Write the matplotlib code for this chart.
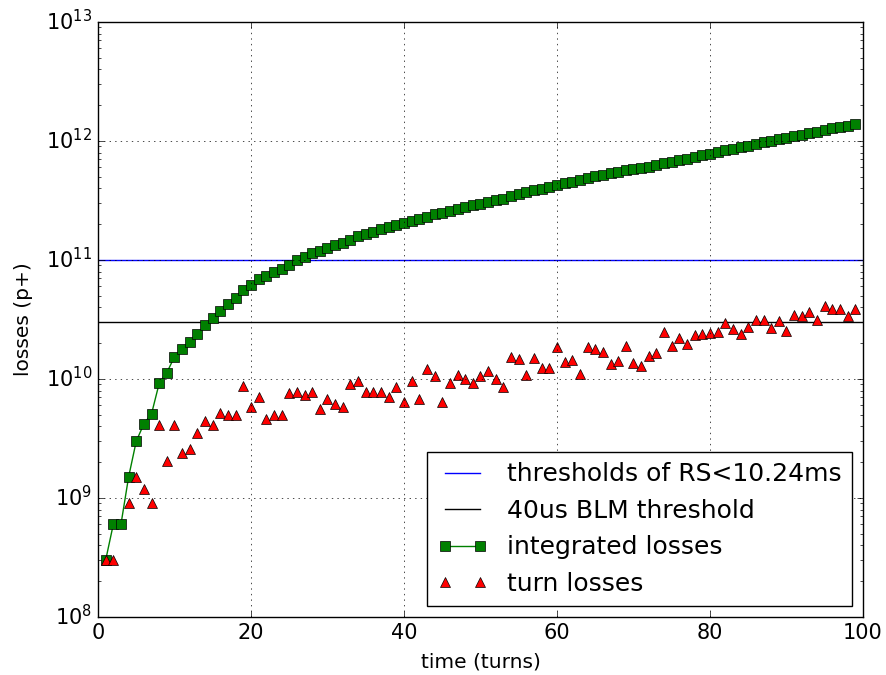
import numpy as np
import matplotlib
matplotlib.use("Agg")
import matplotlib.pyplot as plt

# losses per turn, units of 1e9 protons (turn 3 shows no marker)
turns = np.arange(1, 100)
turn_losses = [
    0.3, 0.3, np.nan, 0.9, 1.5, 1.2, 0.9, 4.1, 2.05, 4.1,
    2.4, 2.6, 3.5, 4.4, 4.1, 5.2, 5.0, 5.0, 8.8, 5.85,
    7.0, 4.6, 5.0, 5.0, 7.7, 7.8, 7.3, 7.8, 5.6, 6.8,
    6.2, 5.85, 9.1, 9.7, 7.8, 7.8, 7.8, 7.0, 8.5, 6.4,
    9.7, 6.8, 12.1, 10.5, 6.4, 9.2, 10.8, 10.0, 9.2, 10.5,
    11.7, 10.0, 8.5, 15.4, 14.7, 10.8, 15.0, 12.4, 12.4, 18.6,
    14.0, 14.4, 11.0, 18.6, 17.9, 17.0, 13.3, 14.3, 19.0, 13.7,
    12.9, 15.7, 16.5, 24.7, 18.9, 22.0, 19.5, 23.4, 24.0, 24.5,
    24.7, 29.4, 26.2, 24.0, 27.2, 31.6, 31.6, 26.7, 30.8, 25.5,
    34.5, 33.8, 36.8, 31.6, 41.0, 38.5, 39.0, 33.8, 39.0,
]
# integrated losses, units of 1e9 protons
integrated_losses = [
    0.3, 0.6, 0.6, 1.5, 3.0, 4.2, 5.1, 9.2, 11.3, 15.4,
    17.8, 20.4, 23.9, 28.3, 32.4, 37.6, 42.6, 47.6, 56.4, 62.2,
    69.2, 73.8, 78.8, 83.8, 91.5, 99.3, 106.6, 114.4, 120.0, 126.8,
    133.0, 138.9, 148.0, 157.7, 165.5, 173.3, 181.1, 188.1, 196.6, 203.0,
    212.7, 219.5, 231.6, 242.1, 248.5, 257.7, 268.5, 278.5, 287.7, 298.2,
    309.9, 319.9, 328.4, 343.8, 358.5, 369.3, 384.3, 396.7, 409.1, 427.7,
    441.7, 456.1, 467.1, 485.7, 503.6, 520.6, 533.9, 548.2, 567.2, 580.9,
    593.8, 609.5, 626.0, 650.7, 669.6, 691.6, 711.1, 734.5, 758.5, 783.0,
    807.7, 837.1, 863.3, 887.3, 914.5, 946.1, 977.7, 1004.4, 1035.2, 1060.7,
    1095.2, 1129.0, 1165.8, 1197.4, 1238.4, 1276.9, 1315.9, 1349.7, 1388.7,
]
rs_threshold = 1e11
blm_threshold = 3e10

plt.style.use("classic")
plt.rcParams["figure.facecolor"] = "white"
plt.rcParams["savefig.facecolor"] = "white"

fig = plt.figure(figsize=(8.86, 6.75), dpi=100)
ax = fig.add_axes([0.1106, 0.0859, 0.8634, 0.8815])

ax.axhline(rs_threshold, color="b", label="thresholds of RS<10.24ms")
ax.axhline(blm_threshold, color="k", label="40us BLM threshold")
ax.plot(turns, np.array(integrated_losses) * 1e9, "gs-", markersize=7,
        label="integrated losses")
ax.plot(turns, np.array(turn_losses) * 1e9, "r^", markersize=7,
        linestyle="none", label="turn losses")

ax.set_yscale("log")
ax.set_xlim(0, 100)
ax.set_ylim(1e8, 1e13)
ax.grid(True)
ax.tick_params(labelsize=15)
ax.set_xlabel("time (turns)", fontsize=14.5, labelpad=7)
ax.set_ylabel("losses (p+)", fontsize=14.5, labelpad=9)
ax.legend(loc="lower right", fontsize=18, numpoints=2, borderaxespad=0.45)

plt.savefig("out.png", dpi=100)
